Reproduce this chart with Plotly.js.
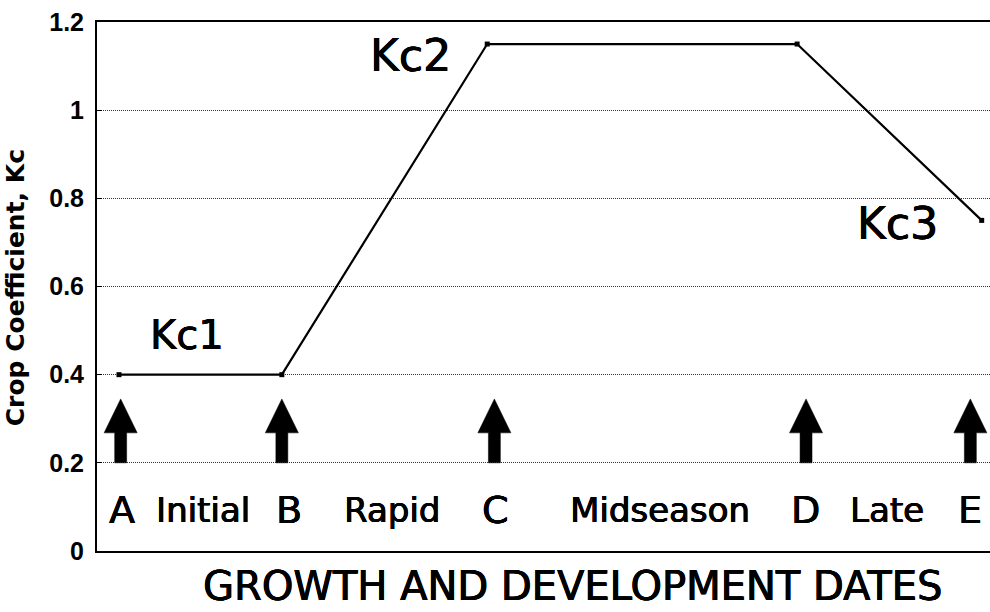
<!DOCTYPE html>
<html>
<head>
<meta charset="utf-8">
<script src="https://cdn.plot.ly/plotly-3.0.1.min.js"></script>
<style>html,body{margin:0;padding:0;background:#fff;}#chart{width:990px;height:612px;}</style>
</head>
<body>
<div id="chart"></div>
<script>
// Stage dates (arbitrary position along the season) and crop coefficient values
const stageX = [2.46, 20.7, 43.7, 78.4, 99.07];
const kcValues = [0.40, 0.40, 1.15, 1.15, 0.75];

// Arrows marking stage dates
const arrowX = [2.65, 20.7, 44.5, 79.4, 97.8];
const arrowBaseKc = [0.2, 0.2, 0.2, 0.2, 0.2];
const arrowTipKc = [0.345, 0.345, 0.345, 0.345, 0.345];

// Text labels
const stageLetters = ['A', 'B', 'C', 'D', 'E'];
const stageLetterX = [2.8, 21.5, 44.6, 79.3, 97.8];
const stageNames = ['Initial', 'Rapid', 'Midseason', 'Late'];
const stageNameX = [11.9, 33.0, 63.0, 88.5];
const labelRowKc = 0.093;
const kcLabels = ['Kc1', 'Kc2', 'Kc3'];
const kcLabelX = [10.1, 35.05, 89.6];
const kcLabelY = [0.49, 1.125, 0.744];
const kcLabelSize = [40, 44, 44];

const yTickVals = [0, 0.2, 0.4, 0.6, 0.8, 1, 1.2];
const yTickText = ['0', '0.2', '0.4', '0.6', '0.8', '1', '1.2'];

// arrow geometry (style)
const shaftHalf = 0.67, headHalf = 1.85, headHeight = 0.077;
const ax = [], ay = [];
arrowX.forEach((x, i) => {
  const b = arrowBaseKc[i], t = arrowTipKc[i], n = t - headHeight;
  ax.push(x - shaftHalf, x - shaftHalf, x - headHalf, x, x + headHalf, x + shaftHalf, x + shaftHalf, x - shaftHalf, null);
  ay.push(b, n, n, t, n, n, b, b, null);
});

const traces = [
  {
    x: ax, y: ay, type: 'scatter', mode: 'lines', fill: 'toself',
    fillcolor: '#000', line: {color: '#000', width: 0.5}, hoverinfo: 'skip', showlegend: false
  },
  {
    x: stageX, y: kcValues, type: 'scatter', mode: 'lines+markers',
    line: {color: '#000', width: 2.2},
    marker: {symbol: 'square', size: 5, color: '#000'},
    showlegend: false
  }
];

const annotations = [];
const bigFont = 'DejaVu Sans, sans-serif';
const thick = '0.6px 0 0 #000, -0.3px 0 0 #000, 0 0.4px 0 #000';
stageLetters.forEach((t, i) => annotations.push({
  x: stageLetterX[i], y: labelRowKc, xref: 'x', yref: 'y', text: t, showarrow: false,
  xanchor: 'center', yanchor: 'middle', font: {family: bigFont, size: 38, color: '#000', shadow: thick}
}));
stageNames.forEach((t, i) => annotations.push({
  x: stageNameX[i], y: labelRowKc, xref: 'x', yref: 'y', text: t, showarrow: false,
  xanchor: 'center', yanchor: 'middle', font: {family: bigFont, size: 34, color: '#000', shadow: thick}
}));
kcLabels.forEach((t, i) => annotations.push({
  x: kcLabelX[i], y: kcLabelY[i], xref: 'x', yref: 'y', text: t, showarrow: false,
  xanchor: 'center', yanchor: 'middle', font: {family: bigFont, size: kcLabelSize[i], color: '#000', shadow: thick}
}));
annotations.push({
  x: 0.532, y: -0.066, xref: 'paper', yref: 'paper', text: 'GROWTH AND DEVELOPMENT DATES',
  showarrow: false, xanchor: 'center', yanchor: 'middle',
  font: {family: bigFont, size: 40, color: '#000', shadow: thick}
});
annotations.push({
  x: -0.091, y: 0.498, xref: 'paper', yref: 'paper', text: 'Crop Coefficient, Kc',
  showarrow: false, textangle: -90, xanchor: 'center', yanchor: 'middle',
  font: {family: bigFont, size: 25, color: '#000', weight: 'bold'}
});

const layout = {
  width: 990, height: 612,
  margin: {l: 97, r: 0, t: 22, b: 61},
  paper_bgcolor: '#fff', plot_bgcolor: '#fff',
  showlegend: false,
  xaxis: {
    range: [0, 100], showgrid: false, zeroline: false, showticklabels: false,
    showline: true, linecolor: '#000', linewidth: 2, mirror: true, ticks: ''
  },
  yaxis: {
    range: [0, 1.2], tickvals: yTickVals, ticktext: yTickText,
    showgrid: true, gridcolor: '#333', gridwidth: 1, griddash: '1px,1px',
    zeroline: false, showline: true, linecolor: '#000', linewidth: 2,
    ticks: 'inside', ticklen: 5, tickcolor: '#000', ticklabelstandoff: 6,
    tickfont: {family: 'Liberation Sans, Arial, sans-serif', size: 25, color: '#000', weight: 'bold'}
  },
  annotations: annotations
};

Plotly.newPlot('chart', traces, layout, {displayModeBar: false, staticPlot: true});
</script>
</body>
</html>
